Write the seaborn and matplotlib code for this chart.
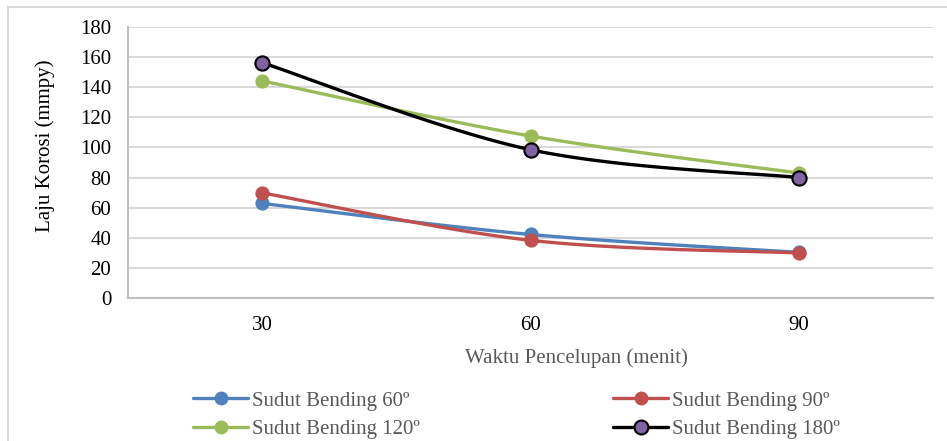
import numpy as np
import pandas as pd
import matplotlib
matplotlib.use("Agg")
import matplotlib.pyplot as plt
from matplotlib.lines import Line2D
from matplotlib.patches import Rectangle
import seaborn as sns

# Data
waktu = ["30", "60", "90"]
series_names = ["Sudut Bending 60º", "Sudut Bending 90º",
                "Sudut Bending 120º", "Sudut Bending 180º"]
sudut_60 = [62.8, 42.2, 30.3]
sudut_90 = [69.8, 38.3, 29.9]
sudut_120 = [144.2, 107.6, 83.0]
sudut_180 = [156.3, 98.5, 80.0]
y_ticks = [0, 20, 40, 60, 80, 100, 120, 140, 160, 180]

line_colors = ["#4F81BD", "#C0504D", "#9BBB59", "#000000"]
marker_faces = ["#4F81BD", "#C0504D", "#9BBB59", "#8064A2"]
marker_edges = ["#4F81BD", "#C0504D", "#9BBB59", "#000000"]

sns.set_theme(style="white")
plt.rcParams["font.family"] = ["Liberation Serif", "DejaVu Serif"]

FS = 15

fig = plt.figure(figsize=(9.47, 4.41), dpi=100)
ax = fig.add_axes([128 / 947, 1 - 298 / 441, (933 - 128) / 947, (298 - 27) / 441])

# Outer chart frame
fig.patches.append(Rectangle((8 / 947, -0.1), 1.2, 1 - 7 / 441 + 0.1,
                             transform=fig.transFigure, fill=False,
                             edgecolor="#d9d9d9", linewidth=1.5, zorder=0))


def smooth_curve(xs, ys, n=40):
    """Cubic Bezier smoothing through every point (Catmull-Rom style)."""
    pts = np.column_stack([xs, ys]).astype(float)
    padded = np.vstack([pts[0], pts, pts[-1]])
    out = []
    for i in range(len(pts) - 1):
        p0, p1, p2, p3 = padded[i], padded[i + 1], padded[i + 2], padded[i + 3]
        c1 = p1 + (p2 - p0) / 6.0
        c2 = p2 - (p3 - p1) / 6.0
        t = np.linspace(0, 1, n)[:, None]
        seg = ((1 - t) ** 3) * p1 + 3 * ((1 - t) ** 2) * t * c1 + 3 * (1 - t) * t ** 2 * c2 + t ** 3 * p2
        out.append(seg if i == 0 else seg[1:])
    return np.vstack(out)


xpos = np.arange(len(waktu))
all_values = [sudut_60, sudut_90, sudut_120, sudut_180]

rows = []
for name, vals in zip(series_names, all_values):
    curve = smooth_curve(xpos, vals)
    rows.append(pd.DataFrame({"x": curve[:, 0], "y": curve[:, 1], "series": name}))
curves = pd.concat(rows, ignore_index=True)
points = pd.DataFrame({
    "x": np.tile(xpos, len(series_names)),
    "y": np.concatenate(all_values),
    "series": np.repeat(series_names, len(xpos)),
})

for i, name in enumerate(series_names):
    sub = curves[curves["series"] == name]
    sns.lineplot(data=sub, x="x", y="y", sort=False, color=line_colors[i],
                 linewidth=2.4, ax=ax, legend=False, zorder=3 + i)
    psub = points[points["series"] == name]
    sns.scatterplot(data=psub, x="x", y="y", color=marker_faces[i],
                    edgecolor=marker_edges[i], linewidth=1.5 if i == 3 else 0,
                    s=105, ax=ax, legend=False, zorder=4 + i)

ax.set_xlim(-0.5, 2.5)
ax.set_ylim(0, 180)
ax.set_yticks(y_ticks)
ax.set_yticklabels([str(v) for v in y_ticks], fontsize=FS, color="#000000")
ax.set_xticks(xpos)
ax.set_xticklabels(waktu, fontsize=FS, color="#000000")
ax.tick_params(axis="both", length=0)
ax.tick_params(axis="y", pad=12)
ax.tick_params(axis="x", pad=13)
ax.grid(axis="y", color="#d9d9d9", linewidth=1.5)
ax.grid(axis="x", visible=False)
for side in ["top", "right"]:
    ax.spines[side].set_visible(False)
for side in ["left", "bottom"]:
    ax.spines[side].set_color("#bfbfbf")
    ax.spines[side].set_linewidth(1.5)

ax.set_ylabel("Laju Korosi (mmpy)", fontsize=FS, color="#000000")
ax.yaxis.set_label_coords(-(128 - 45) / 805, (298 - 146) / 271)
ax.yaxis.label.set_horizontalalignment("center")
ax.yaxis.label.set_verticalalignment("center")
ax.set_xlabel("Waktu Pencelupan (menit)", fontsize=FS, color="#595959")
ax.xaxis.set_label_coords((576 - 128) / 805, -(358 - 298) / 271)
ax.xaxis.label.set_verticalalignment("center")

handles = [Line2D([0], [0], color=line_colors[i], linewidth=2.4, marker="o",
                  markersize=10, markerfacecolor=marker_faces[i],
                  markeredgecolor=marker_edges[i],
                  markeredgewidth=1.5 if i == 3 else 0)
           for i in range(len(series_names))]
# two columns, filled row by row
order = [0, 2, 1, 3]
fig.legend([handles[k] for k in order], [series_names[k] for k in order],
           loc="upper left", ncol=2, bbox_to_anchor=(193 / 947, 1 - 391 / 441),
           frameon=False, fontsize=FS, labelcolor="#595959", borderpad=0,
           handlelength=2.65, handletextpad=0.2, columnspacing=9.25,
           labelspacing=0.42, borderaxespad=0)

fig.savefig("out.png", dpi=100)
